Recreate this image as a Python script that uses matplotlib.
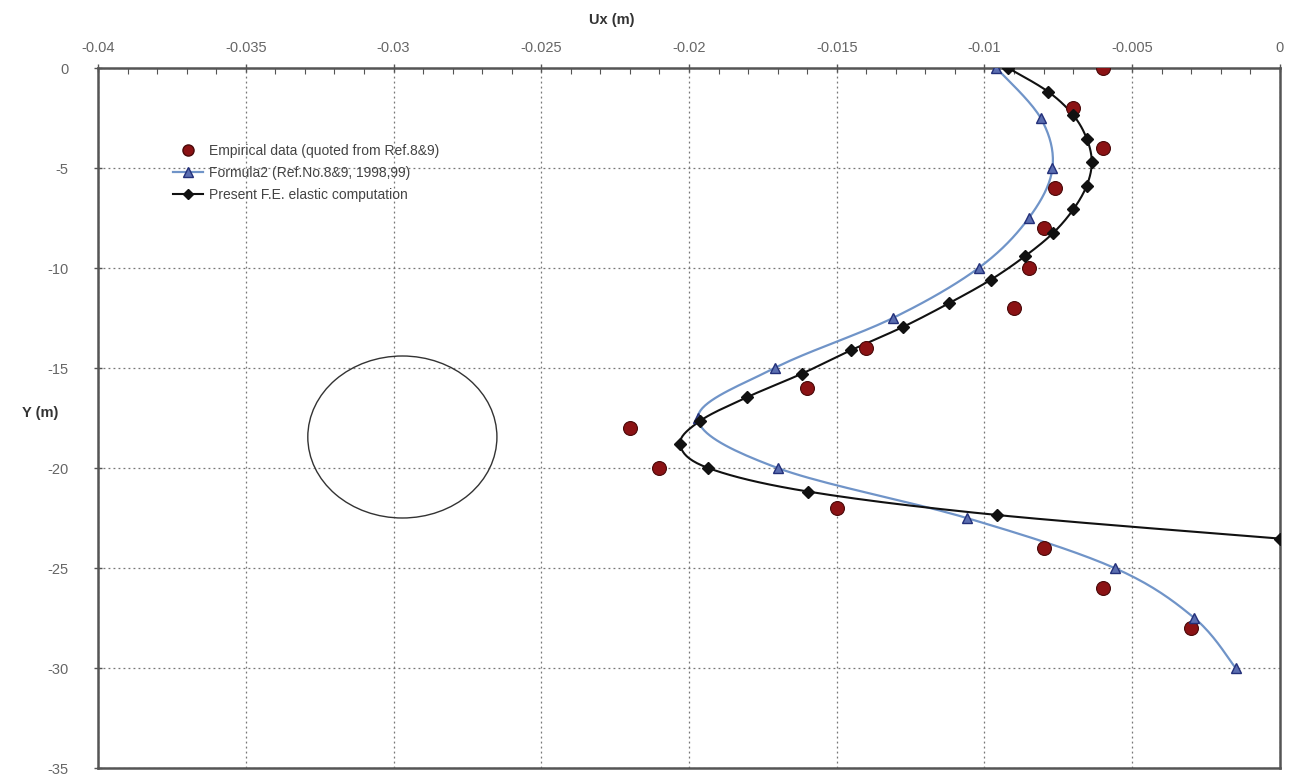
import numpy as np
import matplotlib
matplotlib.use("Agg")
import matplotlib.pyplot as plt
from matplotlib.patches import Ellipse
from matplotlib.ticker import MultipleLocator, FuncFormatter

plt.rcParams['font.family'] = ['Liberation Sans', 'DejaVu Sans']

# Empirical measurements
emp_y = [0, -2, -4, -6, -8, -10, -12, -14, -16, -18, -20, -22, -24, -26, -28]
emp_ux = [-0.0060, -0.0070, -0.0060, -0.0076, -0.0080, -0.0085, -0.0090,
          -0.0140, -0.0160, -0.0220, -0.0210, -0.0150, -0.0080, -0.0060, -0.0030]

# Formula2 values
f2_y = [0, -2.5, -5, -7.5, -10, -12.5, -15, -17.5, -20, -22.5, -25, -27.5, -30]
f2_ux = [-0.0096, -0.0081, -0.0077, -0.0085, -0.0102, -0.0131, -0.0171,
         -0.0197, -0.0170, -0.0106, -0.0056, -0.0029, -0.0015]

# Finite-element elastic computation
fe_y = [0, -1.18, -2.35, -3.53, -4.71, -5.88, -7.06, -8.24, -9.41, -10.59,
        -11.76, -12.94, -14.12, -15.29, -16.47, -17.65, -18.82, -20.0,
        -21.18, -22.35, -23.53]
fe_ux = [-0.0092, -0.00785, -0.0070, -0.00654, -0.00637, -0.00654, -0.00699,
         -0.00767, -0.00863, -0.00979, -0.0112, -0.01275, -0.01453, -0.01619,
         -0.01805, -0.01963, -0.0203, -0.01935, -0.01596, -0.00957, 0.0]

# Tunnel outline
tunnel_center = (-0.0297, -18.45)
tunnel_width = 0.0064
tunnel_height = 8.1

x_ticks = [-0.04, -0.035, -0.03, -0.025, -0.02, -0.015, -0.01, -0.005, 0]
y_ticks = [0, -5, -10, -15, -20, -25, -30, -35]


def smooth_curve(ax, xs, ys, n=20):
    """Catmull-Rom smoothing in display space, like spreadsheet smoothed lines."""
    pts = ax.transData.transform(np.column_stack([xs, ys]))
    p = np.vstack([pts[0], pts, pts[-1]])
    out = []
    t = np.linspace(0, 1, n, endpoint=False)[:, None]
    for i in range(1, len(p) - 2):
        p0, p1, p2, p3 = p[i - 1], p[i], p[i + 1], p[i + 2]
        seg = 0.5 * ((2 * p1) + (-p0 + p2) * t + (2 * p0 - 5 * p1 + 4 * p2 - p3) * t ** 2
                     + (-p0 + 3 * p1 - 3 * p2 + p3) * t ** 3)
        out.append(seg)
    out.append(p[-2][None, :])
    out = np.vstack(out)
    back = ax.transData.inverted().transform(out)
    return back[:, 0], back[:, 1]


fig = plt.figure(figsize=(12.94, 7.74), dpi=100)
ax = fig.add_axes([98 / 1294, 6 / 774, (1280 - 98) / 1294, (768 - 68) / 774])
ax.set_xlim(-0.04, 0)
ax.set_ylim(-35, 0)

ax.xaxis.set_minor_locator(MultipleLocator(0.001))
ax.set_xticks(x_ticks)
ax.set_yticks(y_ticks)
ax.xaxis.set_major_formatter(FuncFormatter(lambda v, p: "0" if abs(v) < 1e-12 else f"{v:g}"))
ax.yaxis.set_major_formatter(FuncFormatter(lambda v, p: f"{v:g}"))

ax.xaxis.tick_top()
ax.xaxis.set_label_position('top')
ax.tick_params(axis='x', which='major', direction='inout', length=6, width=1,
               color='#555555', labelsize=10.5, labelcolor='#666666', pad=6)
ax.tick_params(axis='x', which='minor', direction='in', length=4, width=0.8,
               color='#555555')
ax.tick_params(axis='y', which='major', direction='inout', length=6, width=1,
               color='#555555', labelsize=10.5, labelcolor='#666666', pad=18)
ax.tick_params(axis='x', which='both', bottom=False)
ax.tick_params(axis='y', which='both', right=False)

for s in ax.spines.values():
    s.set_color('#555555')
    s.set_linewidth(1.8)

ax.grid(True, which='major', linestyle=(0, (1.5, 2.5)), color='#777777', linewidth=0.9)
ax.set_axisbelow(True)

ax.set_xlabel('Ux (m)', fontsize=10.5, fontweight='bold', color='#333333')
ax.xaxis.set_label_coords((612 - 98) / 1182, 1.0 + 44 / 700)
ax.set_ylabel('Y (m)', fontsize=10.5, fontweight='bold', color='#333333', rotation=0)
ax.yaxis.set_label_coords(-0.049, 0.497)

# Tunnel cross-section
ax.add_patch(Ellipse(tunnel_center, tunnel_width, tunnel_height, fill=False,
                     edgecolor='#333333', linewidth=1.0))

# Smoothed lines
bx, by = smooth_curve(ax, f2_ux, f2_y)
ax.plot(bx, by, color='#7094c8', linewidth=1.6, zorder=3)
kx, ky = smooth_curve(ax, fe_ux, fe_y)
ax.plot(kx, ky, color='#111111', linewidth=1.5, zorder=4)

# Markers
ax.plot(emp_ux, emp_y, linestyle='none', marker='o', markersize=10,
        markerfacecolor='#8b1214', markeredgecolor='#4a0a0a', markeredgewidth=0.8, zorder=5)
ax.plot(f2_ux, f2_y, linestyle='none', marker='^', markersize=7.5,
        markerfacecolor='#5a6db0', markeredgecolor='#23307a', markeredgewidth=1.0, zorder=6)
ax.plot(fe_ux, fe_y, linestyle='none', marker='D', markersize=6,
        markerfacecolor='#111111', markeredgecolor='#111111', zorder=7)

# Legend entries
h1, = ax.plot([], [], linestyle='none', marker='o', markersize=8,
              markerfacecolor='#8b1214', markeredgecolor='#4a0a0a')
h2, = ax.plot([], [], color='#7094c8', linewidth=1.6, marker='^', markersize=7,
              markerfacecolor='#5a6db0', markeredgecolor='#23307a')
h3, = ax.plot([], [], color='#111111', linewidth=1.5, marker='D', markersize=5.5,
              markerfacecolor='#111111', markeredgecolor='#111111')
leg = ax.legend([h1, h2, h3],
                ['Empirical data (quoted from Ref.8&9)',
                 'Formula2 (Ref.No.8&9, 1998,99)',
                 'Present F.E. elastic computation'],
                loc='upper left', bbox_to_anchor=(0.055, 0.905), frameon=False,
                fontsize=10, labelcolor='#444444', handlelength=2.2,
                handletextpad=0.4, labelspacing=0.55, borderpad=0.2)

fig.savefig('out.png', dpi=100, facecolor='white')
